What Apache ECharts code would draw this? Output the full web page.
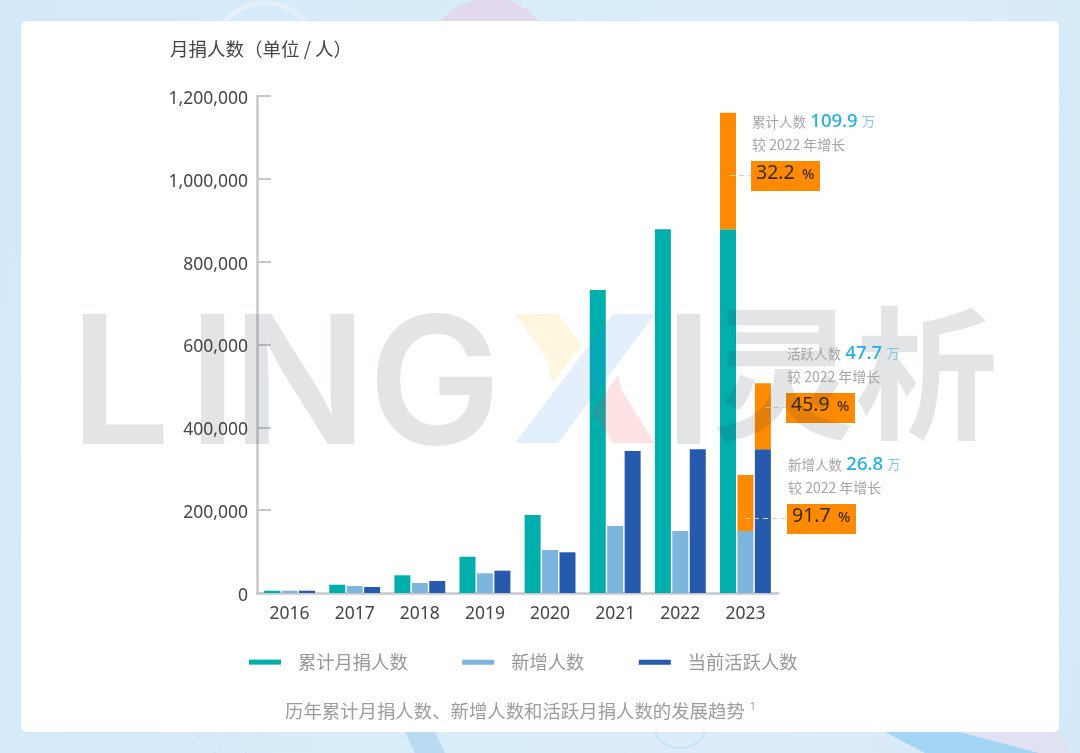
<!DOCTYPE html>
<html lang="zh">
<head>
<meta charset="utf-8">
<title>月捐人数</title>
<script src="https://cdn.jsdelivr.net/npm/echarts@6/dist/echarts.min.js"></script>
<style>
html, body { margin: 0; padding: 0; width: 1080px; height: 753px; overflow: hidden; }
body { background: linear-gradient(100deg, #d3e9f8 0%, #d9ecfa 45%, #dcedfa 75%, #d4e8f7 100%); }
#chart { width: 1080px; height: 753px; }
</style>
</head>
<body>
<div id="chart"></div>
<script>
// Chart data
const years = ['2016', '2017', '2018', '2019', '2020', '2021', '2022', '2023'];
const totalDonors = [5500, 20000, 42700, 87600, 188300, 731600, 878000, 878000];
const newDonors = [5500, 16900, 24100, 47500, 103800, 161800, 149700, 149700];
const activeDonors = [5500, 14500, 29000, 53900, 98300, 342900, 347000, 347000];
// Orange growth on top of the 2023 bars
const totalGrowth = [null, null, null, null, null, null, null, 281700];
const newGrowth = [null, null, null, null, null, null, null, 135200];
const activeGrowth = [null, null, null, null, null, null, null, 159300];

const yTicks = { min: 0, max: 1200000, interval: 200000 };
const legendNames = ['累计月捐人数', '新增人数', '当前活跃人数'];

const GREY_TEXT = '#a3a5a8';
const DARK_TEXT = '#454545';
const ORANGE = '#ff8a00';
const WATERMARK = 'rgba(35,45,65,0.13)';

/**
 * One callout: caption + big number, growth line, orange box and dashed leader
 */
function callout(x, y, caption, amount, percent, lineFrom) {
    return [
        {
            type: 'text', left: x + 1, top: y, z: 60, silent: true,
            style: {
                text: `{c|${caption}} {n|${amount}} {u|万}`,
                rich: {
                    c: { fontSize: 13.5, fill: GREY_TEXT, fontFamily: 'Noto Sans CJK SC' },
                    n: { fontSize: 18.5, fontWeight: 500, fill: '#1fb2e0', fontFamily: 'Noto Sans', padding: [0, 1, 0, 1] },
                    u: { fontSize: 13, fill: '#7cc9e8', fontFamily: 'Noto Sans CJK SC' }
                }
            }
        },
        {
            type: 'text', left: x + 1, top: y + 26, z: 60, silent: true,
            style: { text: '较 2022 年增长', fontSize: 14, fill: GREY_TEXT, fontFamily: 'Noto Sans CJK SC' }
        },
        {
            type: 'rect', z: 40, silent: true,
            shape: { x: x, y: y + 49, width: 69, height: 30 },
            style: { fill: ORANGE }
        },
        {
            type: 'text', left: x + 5, top: y + 51, z: 60, silent: true,
            style: {
                text: `{p|${percent}} {s|%}`,
                rich: {
                    p: { fontSize: 19.5, fill: '#3a2a17', fontFamily: 'Noto Sans' },
                    s: { fontSize: 14.5, fontWeight: 500, fill: '#3a2a17', fontFamily: 'Noto Sans', padding: [3, 0, 0, 4] }
                }
            }
        },
        {
            type: 'line', z: 41, silent: true,
            shape: { x1: lineFrom, y1: y + 63.5, x2: x, y2: y + 63.5 },
            style: { stroke: '#cfd1d4', lineWidth: 1.2, lineDash: [5, 4] }
        }
    ];
}

/**
 * Big grey LINGXI watermark, laid over the chart with low opacity
 */
function watermarkLetter(text, left) {
    return {
        type: 'text', left: left, top: 301, z: 50, silent: true,
        style: { text: text, fontSize: 178, fontWeight: 600, fontFamily: 'Inter', fill: WATERMARK }
    };
}

function polygon(points, fill) {
    return { type: 'polygon', z: 50, silent: true, shape: { points: points }, style: { fill: fill } };
}

const background = [
    // Decoration around the white card
    { type: 'circle', z: -20, silent: true, shape: { cx: 490, cy: 62, r: 64 }, style: { fill: '#e3d9ec' } },
    { type: 'circle', z: -20, silent: true, shape: { cx: 265, cy: 55, r: 52 }, style: { fill: 'none', stroke: '#e4f1fb', lineWidth: 5 } },
    { type: 'polygon', z: -20, silent: true, shape: { points: [[885, 732], [960, 732], [1040, 753], [925, 753]] }, style: { fill: '#a3d6f5' } },
    { type: 'polygon', z: -20, silent: true, shape: { points: [[960, 732], [1060, 732], [1072, 753], [1040, 753]] }, style: { fill: '#e0e2f3' } },
    { type: 'polygon', z: -20, silent: true, shape: { points: [[195, 732], [215, 753], [232, 732], [246, 753], [262, 732]] }, style: { fill: 'none', stroke: '#cfe3f3', lineWidth: 1 } },
    { type: 'circle', z: -20, silent: true, shape: { cx: 680, cy: 720, r: 28 }, style: { fill: 'none', stroke: '#c7e4f6', lineWidth: 2 } },
    { type: 'polygon', z: -20, silent: true, shape: { points: [[405, 732], [435, 732], [445, 753], [415, 753]] }, style: { fill: '#b9daf3' } },
    // White card
    { type: 'rect', z: -10, silent: true, shape: { x: 21, y: 21, width: 1038, height: 711, r: 6 }, style: { fill: '#ffffff' } }
];

const watermark = [
    watermarkLetter('L', 70),
    watermarkLetter('I', 188),
    watermarkLetter('N', 232),
    watermarkLetter('G', 368),
    watermarkLetter('I', 664),
    polygon([[515, 314], [558, 314], [582, 345], [552, 383], [549, 364], [540, 349]], 'rgba(255,190,30,0.14)'),
    polygon([[613, 314], [655, 314], [558, 443], [515, 443]], 'rgba(40,135,240,0.13)'),
    polygon([[618, 375], [622, 391], [655, 443], [613, 443], [592, 412]], 'rgba(240,60,60,0.14)'),
    {
        type: 'text', left: 712, top: 302, z: 50, silent: true,
        style: { text: '灵析', fontSize: 143, fontWeight: 700, fontFamily: 'Noto Sans CJK SC', fill: WATERMARK }
    }
];

const captions = [
    {
        type: 'text', left: 170, top: 40, z: 60, silent: true,
        style: { text: '月捐人数（单位 / 人）', fontSize: 18.5, fill: DARK_TEXT, fontFamily: 'Noto Sans CJK SC' }
    },
    {
        type: 'text', left: 285, top: 702, z: 60, silent: true,
        style: {
            text: '{t|历年累计月捐人数、新增人数和活跃月捐人数的发展趋势} {s|1}',
            rich: {
                t: { fontSize: 18.4, fill: '#9b9da0', fontFamily: 'Noto Sans CJK SC' },
                s: { fontSize: 10, fill: '#9b9da0', fontFamily: 'Noto Sans', padding: [0, 0, 9, 2] }
            }
        }
    }
];

function stackedBar(name, stack, data, color) {
    return {
        name: name,
        type: 'bar',
        stack: stack,
        data: data,
        barWidth: 16,
        barGap: '9%',
        itemStyle: { color: color }
    };
}

const chart = echarts.init(document.getElementById('chart'), null, { renderer: 'canvas' });

chart.setOption({
    animation: false,
    backgroundColor: 'transparent',
    textStyle: { fontFamily: '"Noto Sans", "Noto Sans CJK SC", sans-serif' },
    grid: { left: 257, top: 96, width: 521, height: 497 },
    legend: {
        left: 244,
        top: 648,
        itemWidth: 32,
        itemHeight: 5,
        itemGap: 54.5,
        icon: 'rect',
        data: legendNames,
        selectedMode: false,
        textStyle: { fontSize: 18.3, color: '#96989b', padding: [0, 0, 0, 12], fontFamily: 'Noto Sans CJK SC' }
    },
    xAxis: {
        type: 'category',
        data: years,
        axisTick: { show: false },
        axisLine: { lineStyle: { color: '#c6c8cc', width: 2.5 } },
        axisLabel: { fontSize: 17.5, color: DARK_TEXT, margin: 12 }
    },
    yAxis: {
        type: 'value',
        min: yTicks.min,
        max: yTicks.max,
        interval: yTicks.interval,
        splitLine: { show: false },
        axisLine: { show: true, lineStyle: { color: '#c6c8cc', width: 2.5 } },
        axisTick: { show: true, inside: true, length: 14, lineStyle: { color: '#c6c8cc', width: 2 } },
        axisLabel: {
            fontSize: 17.5,
            color: DARK_TEXT,
            margin: 9,
            verticalAlign: 'top',
            lineHeight: 6,
            formatter: (value) => value.toLocaleString('en-US')
        }
    },
    series: [
        stackedBar(legendNames[0], 'total', totalDonors, '#00aeac'),
        stackedBar('累计增长', 'total', totalGrowth, ORANGE),
        stackedBar(legendNames[1], 'new', newDonors, '#7cb6de'),
        stackedBar('新增增长', 'new', newGrowth, ORANGE),
        stackedBar(legendNames[2], 'active', activeDonors, '#255aad'),
        stackedBar('活跃增长', 'active', activeGrowth, ORANGE)
    ],
    graphic: {
        elements: [
            ...background,
            ...watermark,
            ...captions,
            ...callout(751, 112, '累计人数', '109.9', '32.2', 730),
            ...callout(786, 344, '活跃人数', '47.7', '45.9', 765),
            ...callout(787, 455, '新增人数', '26.8', '91.7', 745)
        ]
    }
});
</script>
</body>
</html>
